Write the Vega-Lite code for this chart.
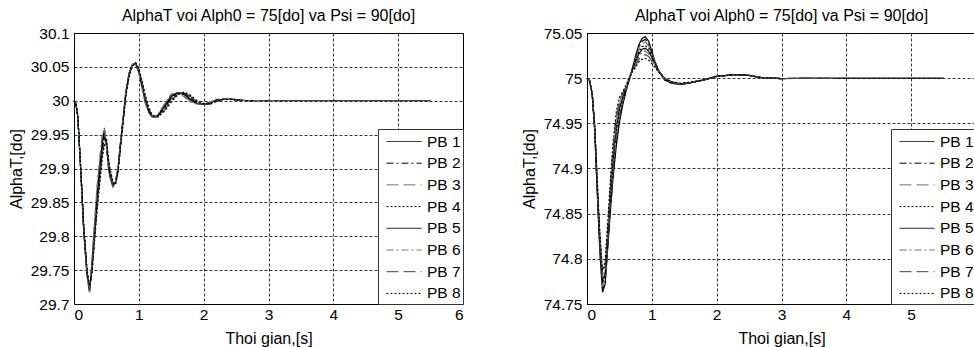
{
"$schema": "https://vega.github.io/schema/vega-lite/v6.json",
"padding": {"left": 7, "top": 7, "right": 0, "bottom": 0},
"background": "white",
"config": {
  "font": "Liberation Sans",
  "view": {"stroke": "black", "strokeWidth": 1},
  "axis": {"domain": false, "ticks": false, "grid": true, "gridColor": "black", "gridDash": [3, 2], "gridOpacity": 1, "gridWidth": 0.8, "labelFont": "Liberation Sans", "labelFontSize": 15.5, "labelColor": "black", "titleFont": "Liberation Sans", "titleFontSize": 16, "titleFontWeight": "normal", "titleColor": "black"},
  "axisX": {"labelPadding": 3.5, "titlePadding": 7},
  "axisY": {"labelPadding": 5, "titlePadding": 6},
  "title": {"font": "Liberation Sans", "fontSize": 16, "fontWeight": "normal", "color": "black", "offset": 2},
  "legend": {"orient": "bottom-right", "offset": 0, "title": null, "symbolType": "M-1.75,0H1.75", "symbolSize": 400, "symbolOffset": 13.5, "symbolStrokeWidth": 1, "labelFont": "Liberation Sans", "labelFontSize": 15.5, "labelColor": "black", "strokeColor": "#333333", "fillColor": "white", "padding": 2, "rowPadding": 2.7, "labelOffset": 12.5, "cornerRadius": 0}
},
"datasets": {
  "L": [
    {"t":0,"PB 1":30,"PB 2":30,"PB 3":30,"PB 4":30,"PB 5":30,"PB 6":30,"PB 7":30,"PB 8":30},
    {"t":0.03,"PB 1":29.996,"PB 2":29.996,"PB 3":29.996,"PB 4":29.996,"PB 5":29.996,"PB 6":29.996,"PB 7":29.996,"PB 8":29.996},
    {"t":0.06,"PB 1":29.975,"PB 2":29.975,"PB 3":29.975,"PB 4":29.975,"PB 5":29.975,"PB 6":29.975,"PB 7":29.975,"PB 8":29.975},
    {"t":0.1,"PB 1":29.905,"PB 2":29.906,"PB 3":29.904,"PB 4":29.907,"PB 5":29.905,"PB 6":29.903,"PB 7":29.906,"PB 8":29.908},
    {"t":0.15,"PB 1":29.81,"PB 2":29.812,"PB 3":29.808,"PB 4":29.814,"PB 5":29.81,"PB 6":29.806,"PB 7":29.812,"PB 8":29.815},
    {"t":0.2,"PB 1":29.745,"PB 2":29.748,"PB 3":29.742,"PB 4":29.75,"PB 5":29.745,"PB 6":29.74,"PB 7":29.748,"PB 8":29.752},
    {"t":0.24,"PB 1":29.719,"PB 2":29.722,"PB 3":29.717,"PB 4":29.724,"PB 5":29.72,"PB 6":29.716,"PB 7":29.722,"PB 8":29.726},
    {"t":0.28,"PB 1":29.76,"PB 2":29.755,"PB 3":29.765,"PB 4":29.752,"PB 5":29.758,"PB 6":29.768,"PB 7":29.75,"PB 8":29.748},
    {"t":0.32,"PB 1":29.815,"PB 2":29.808,"PB 3":29.822,"PB 4":29.802,"PB 5":29.812,"PB 6":29.826,"PB 7":29.8,"PB 8":29.796},
    {"t":0.36,"PB 1":29.865,"PB 2":29.858,"PB 3":29.874,"PB 4":29.85,"PB 5":29.862,"PB 6":29.878,"PB 7":29.846,"PB 8":29.842},
    {"t":0.4,"PB 1":29.905,"PB 2":29.898,"PB 3":29.915,"PB 4":29.89,"PB 5":29.902,"PB 6":29.918,"PB 7":29.886,"PB 8":29.88},
    {"t":0.44,"PB 1":29.942,"PB 2":29.935,"PB 3":29.95,"PB 4":29.928,"PB 5":29.94,"PB 6":29.952,"PB 7":29.924,"PB 8":29.918},
    {"t":0.47,"PB 1":29.957,"PB 2":29.95,"PB 3":29.96,"PB 4":29.945,"PB 5":29.953,"PB 6":29.958,"PB 7":29.94,"PB 8":29.935},
    {"t":0.5,"PB 1":29.935,"PB 2":29.937,"PB 3":29.932,"PB 4":29.94,"PB 5":29.936,"PB 6":29.93,"PB 7":29.942,"PB 8":29.944},
    {"t":0.54,"PB 1":29.895,"PB 2":29.899,"PB 3":29.892,"PB 4":29.903,"PB 5":29.897,"PB 6":29.89,"PB 7":29.905,"PB 8":29.908},
    {"t":0.6,"PB 1":29.874,"PB 2":29.875,"PB 3":29.873,"PB 4":29.877,"PB 5":29.874,"PB 6":29.872,"PB 7":29.878,"PB 8":29.88},
    {"t":0.64,"PB 1":29.88,"PB 2":29.879,"PB 3":29.881,"PB 4":29.878,"PB 5":29.88,"PB 6":29.882,"PB 7":29.877,"PB 8":29.876},
    {"t":0.68,"PB 1":29.9,"PB 2":29.898,"PB 3":29.902,"PB 4":29.896,"PB 5":29.9,"PB 6":29.903,"PB 7":29.895,"PB 8":29.894},
    {"t":0.72,"PB 1":29.94,"PB 2":29.938,"PB 3":29.942,"PB 4":29.936,"PB 5":29.94,"PB 6":29.943,"PB 7":29.935,"PB 8":29.934},
    {"t":0.76,"PB 1":29.975,"PB 2":29.974,"PB 3":29.977,"PB 4":29.972,"PB 5":29.975,"PB 6":29.978,"PB 7":29.971,"PB 8":29.97},
    {"t":0.8,"PB 1":30.012,"PB 2":30.011,"PB 3":30.013,"PB 4":30.01,"PB 5":30.012,"PB 6":30.014,"PB 7":30.009,"PB 8":30.008},
    {"t":0.85,"PB 1":30.04,"PB 2":30.039,"PB 3":30.041,"PB 4":30.038,"PB 5":30.04,"PB 6":30.041,"PB 7":30.037,"PB 8":30.036},
    {"t":0.9,"PB 1":30.053,"PB 2":30.053,"PB 3":30.053,"PB 4":30.052,"PB 5":30.053,"PB 6":30.054,"PB 7":30.052,"PB 8":30.051},
    {"t":0.95,"PB 1":30.055,"PB 2":30.055,"PB 3":30.054,"PB 4":30.056,"PB 5":30.055,"PB 6":30.054,"PB 7":30.056,"PB 8":30.056},
    {"t":1.0,"PB 1":30.043,"PB 2":30.045,"PB 3":30.041,"PB 4":30.046,"PB 5":30.043,"PB 6":30.04,"PB 7":30.046,"PB 8":30.048},
    {"t":1.05,"PB 1":30.022,"PB 2":30.025,"PB 3":30.019,"PB 4":30.027,"PB 5":30.022,"PB 6":30.018,"PB 7":30.027,"PB 8":30.03},
    {"t":1.1,"PB 1":30.0,"PB 2":30.003,"PB 3":29.997,"PB 4":30.005,"PB 5":30.0,"PB 6":29.996,"PB 7":30.005,"PB 8":30.008},
    {"t":1.15,"PB 1":29.985,"PB 2":29.987,"PB 3":29.983,"PB 4":29.989,"PB 5":29.985,"PB 6":29.982,"PB 7":29.989,"PB 8":29.991},
    {"t":1.2,"PB 1":29.977,"PB 2":29.978,"PB 3":29.976,"PB 4":29.979,"PB 5":29.977,"PB 6":29.976,"PB 7":29.979,"PB 8":29.98},
    {"t":1.25,"PB 1":29.976,"PB 2":29.976,"PB 3":29.976,"PB 4":29.976,"PB 5":29.976,"PB 6":29.976,"PB 7":29.976,"PB 8":29.977},
    {"t":1.3,"PB 1":29.979,"PB 2":29.978,"PB 3":29.98,"PB 4":29.977,"PB 5":29.979,"PB 6":29.981,"PB 7":29.977,"PB 8":29.976},
    {"t":1.4,"PB 1":29.993,"PB 2":29.99,"PB 3":29.995,"PB 4":29.988,"PB 5":29.992,"PB 6":29.996,"PB 7":29.987,"PB 8":29.985},
    {"t":1.5,"PB 1":30.007,"PB 2":30.004,"PB 3":30.009,"PB 4":30.002,"PB 5":30.006,"PB 6":30.01,"PB 7":30.0,"PB 8":29.998},
    {"t":1.6,"PB 1":30.012,"PB 2":30.011,"PB 3":30.012,"PB 4":30.01,"PB 5":30.012,"PB 6":30.012,"PB 7":30.01,"PB 8":30.009},
    {"t":1.7,"PB 1":30.009,"PB 2":30.011,"PB 3":30.007,"PB 4":30.012,"PB 5":30.01,"PB 6":30.006,"PB 7":30.012,"PB 8":30.013},
    {"t":1.8,"PB 1":30.001,"PB 2":30.004,"PB 3":29.999,"PB 4":30.006,"PB 5":30.002,"PB 6":29.998,"PB 7":30.006,"PB 8":30.008},
    {"t":1.9,"PB 1":29.996,"PB 2":29.997,"PB 3":29.995,"PB 4":29.998,"PB 5":29.996,"PB 6":29.995,"PB 7":29.998,"PB 8":30.0},
    {"t":2.0,"PB 1":29.995,"PB 2":29.995,"PB 3":29.995,"PB 4":29.995,"PB 5":29.995,"PB 6":29.995,"PB 7":29.995,"PB 8":29.996},
    {"t":2.1,"PB 1":29.997,"PB 2":29.996,"PB 3":29.998,"PB 4":29.996,"PB 5":29.997,"PB 6":29.998,"PB 7":29.995,"PB 8":29.995},
    {"t":2.2,"PB 1":30.001,"PB 2":30.0,"PB 3":30.002,"PB 4":30.0,"PB 5":30.001,"PB 6":30.002,"PB 7":29.999,"PB 8":29.999},
    {"t":2.3,"PB 1":30.002,"PB 2":30.002,"PB 3":30.002,"PB 4":30.002,"PB 5":30.002,"PB 6":30.002,"PB 7":30.002,"PB 8":30.002},
    {"t":2.45,"PB 1":30.002,"PB 2":30.002,"PB 3":30.002,"PB 4":30.002,"PB 5":30.002,"PB 6":30.002,"PB 7":30.002,"PB 8":30.002},
    {"t":2.6,"PB 1":30.0005,"PB 2":30.0005,"PB 3":30.0005,"PB 4":30.0005,"PB 5":30.0005,"PB 6":30.0005,"PB 7":30.0005,"PB 8":30.0005},
    {"t":2.8,"PB 1":30.0,"PB 2":30.0,"PB 6":30.0},
    {"t":3.2,"PB 1":30.0,"PB 2":30.0,"PB 6":30.0},
    {"t":5.5,"PB 1":30.0}
  ],
  "R": [
    {"t":0,"PB 1":75,"PB 2":75,"PB 3":75,"PB 4":75,"PB 5":75,"PB 6":75,"PB 7":75,"PB 8":75},
    {"t":0.04,"PB 1":74.997,"PB 2":74.997,"PB 3":74.997,"PB 4":74.997,"PB 5":74.997,"PB 6":74.997,"PB 7":74.997,"PB 8":74.997},
    {"t":0.08,"PB 1":74.983,"PB 2":74.983,"PB 3":74.983,"PB 4":74.983,"PB 5":74.983,"PB 6":74.983,"PB 7":74.983,"PB 8":74.983},
    {"t":0.12,"PB 1":74.94,"PB 2":74.941,"PB 3":74.942,"PB 4":74.943,"PB 5":74.944,"PB 6":74.945,"PB 7":74.946,"PB 8":74.947},
    {"t":0.16,"PB 1":74.87,"PB 2":74.872,"PB 3":74.874,"PB 4":74.876,"PB 5":74.878,"PB 6":74.88,"PB 7":74.882,"PB 8":74.884},
    {"t":0.2,"PB 1":74.805,"PB 2":74.808,"PB 3":74.811,"PB 4":74.814,"PB 5":74.817,"PB 6":74.82,"PB 7":74.823,"PB 8":74.826},
    {"t":0.24,"PB 1":74.763,"PB 2":74.766,"PB 3":74.769,"PB 4":74.773,"PB 5":74.776,"PB 6":74.779,"PB 7":74.783,"PB 8":74.787},
    {"t":0.28,"PB 1":74.772,"PB 2":74.774,"PB 3":74.777,"PB 4":74.781,"PB 5":74.784,"PB 6":74.788,"PB 7":74.792,"PB 8":74.796},
    {"t":0.32,"PB 1":74.812,"PB 2":74.815,"PB 3":74.819,"PB 4":74.823,"PB 5":74.827,"PB 6":74.831,"PB 7":74.835,"PB 8":74.84},
    {"t":0.36,"PB 1":74.852,"PB 2":74.856,"PB 3":74.861,"PB 4":74.866,"PB 5":74.871,"PB 6":74.876,"PB 7":74.881,"PB 8":74.887},
    {"t":0.4,"PB 1":74.888,"PB 2":74.893,"PB 3":74.898,"PB 4":74.904,"PB 5":74.909,"PB 6":74.915,"PB 7":74.921,"PB 8":74.927},
    {"t":0.45,"PB 1":74.924,"PB 2":74.929,"PB 3":74.934,"PB 4":74.94,"PB 5":74.945,"PB 6":74.951,"PB 7":74.956,"PB 8":74.962},
    {"t":0.5,"PB 1":74.951,"PB 2":74.955,"PB 3":74.959,"PB 4":74.963,"PB 5":74.967,"PB 6":74.971,"PB 7":74.975,"PB 8":74.979},
    {"t":0.55,"PB 1":74.97,"PB 2":74.973,"PB 3":74.975,"PB 4":74.977,"PB 5":74.979,"PB 6":74.981,"PB 7":74.983,"PB 8":74.985},
    {"t":0.6,"PB 1":74.985,"PB 2":74.986,"PB 3":74.987,"PB 4":74.988,"PB 5":74.989,"PB 6":74.99,"PB 7":74.991,"PB 8":74.992},
    {"t":0.65,"PB 1":74.998,"PB 2":74.998,"PB 3":74.998,"PB 4":74.998,"PB 5":74.999,"PB 6":74.999,"PB 7":75.0,"PB 8":75.0},
    {"t":0.7,"PB 1":75.011,"PB 2":75.01,"PB 3":75.01,"PB 4":75.009,"PB 5":75.009,"PB 6":75.008,"PB 7":75.008,"PB 8":75.007},
    {"t":0.75,"PB 1":75.025,"PB 2":75.023,"PB 3":75.021,"PB 4":75.019,"PB 5":75.018,"PB 6":75.016,"PB 7":75.014,"PB 8":75.012},
    {"t":0.8,"PB 1":75.037,"PB 2":75.034,"PB 3":75.032,"PB 4":75.029,"PB 5":75.027,"PB 6":75.024,"PB 7":75.021,"PB 8":75.018},
    {"t":0.85,"PB 1":75.044,"PB 2":75.041,"PB 3":75.038,"PB 4":75.035,"PB 5":75.032,"PB 6":75.029,"PB 7":75.025,"PB 8":75.021},
    {"t":0.9,"PB 1":75.046,"PB 2":75.043,"PB 3":75.04,"PB 4":75.036,"PB 5":75.033,"PB 6":75.03,"PB 7":75.026,"PB 8":75.022},
    {"t":0.95,"PB 1":75.041,"PB 2":75.038,"PB 3":75.036,"PB 4":75.033,"PB 5":75.03,"PB 6":75.027,"PB 7":75.024,"PB 8":75.02},
    {"t":1.0,"PB 1":75.03,"PB 2":75.028,"PB 3":75.027,"PB 4":75.025,"PB 5":75.023,"PB 6":75.021,"PB 7":75.019,"PB 8":75.016},
    {"t":1.05,"PB 1":75.018,"PB 2":75.018,"PB 3":75.017,"PB 4":75.016,"PB 5":75.015,"PB 6":75.014,"PB 7":75.013,"PB 8":75.012},
    {"t":1.1,"PB 1":75.009,"PB 2":75.009,"PB 3":75.009,"PB 4":75.009,"PB 5":75.008,"PB 6":75.008,"PB 7":75.008,"PB 8":75.007},
    {"t":1.2,"PB 1":74.998,"PB 2":74.998,"PB 3":74.999,"PB 4":74.999,"PB 5":74.999,"PB 6":74.999,"PB 7":75.0,"PB 8":75.0},
    {"t":1.3,"PB 1":74.9945,"PB 2":74.9945,"PB 3":74.995,"PB 4":74.995,"PB 5":74.9955,"PB 6":74.9955,"PB 7":74.996,"PB 8":74.996},
    {"t":1.45,"PB 1":74.993,"PB 2":74.993,"PB 3":74.9932,"PB 4":74.9935,"PB 5":74.9935,"PB 6":74.994,"PB 7":74.994,"PB 8":74.9945},
    {"t":1.6,"PB 1":74.995,"PB 2":74.995,"PB 3":74.995,"PB 4":74.995,"PB 5":74.995,"PB 6":74.9955,"PB 7":74.9955,"PB 8":74.996},
    {"t":1.8,"PB 1":74.998,"PB 2":74.998,"PB 3":74.998,"PB 4":74.998,"PB 5":74.998,"PB 6":74.998,"PB 7":74.998,"PB 8":74.998},
    {"t":2.0,"PB 1":75.002,"PB 2":75.002,"PB 3":75.002,"PB 4":75.002,"PB 5":75.002,"PB 6":75.002,"PB 7":75.002,"PB 8":75.002},
    {"t":2.3,"PB 1":75.004,"PB 2":75.004,"PB 3":75.004,"PB 4":75.004,"PB 5":75.004,"PB 6":75.004,"PB 7":75.004,"PB 8":75.004},
    {"t":2.5,"PB 1":75.003,"PB 2":75.003,"PB 3":75.003,"PB 4":75.003,"PB 5":75.003,"PB 6":75.003,"PB 7":75.003,"PB 8":75.003},
    {"t":2.7,"PB 1":75.0005,"PB 2":75.0005,"PB 3":75.0005,"PB 4":75.0005,"PB 5":75.0005,"PB 6":75.0005,"PB 7":75.0005,"PB 8":75.0005},
    {"t":3.0,"PB 1":74.9995,"PB 2":74.9995,"PB 3":74.9995,"PB 4":74.9995,"PB 5":74.9995,"PB 6":74.9995,"PB 7":74.9995,"PB 8":74.9995},
    {"t":3.3,"PB 1":75.0,"PB 3":75.0,"PB 7":75.0},
    {"t":3.8,"PB 1":75.0,"PB 3":75.0,"PB 7":75.0},
    {"t":5.5,"PB 1":75.0}
  ]
},
"spacing": 56,
"resolve": {"scale": {"color": "independent", "strokeDash": "independent"}},
"hconcat": [
  {
    "width": 389, "height": 271,
    "title": "AlphaT voi Alph0 = 75[do] va Psi = 90[do]",
    "data": {"name": "L"},
    "transform": [{"fold": ["PB 1","PB 2","PB 3","PB 4","PB 5","PB 6","PB 7","PB 8"], "as": ["series","value"]}],
    "mark": {"type": "line", "strokeWidth": 1.2},
    "encoding": {
      "x": {"field": "t", "type": "quantitative", "scale": {"domain": [0, 6], "nice": false}, "axis": {"values": [0,1,2,3,4,5,6], "format": "d", "title": "Thoi gian,[s]"}},
      "y": {"field": "value", "type": "quantitative", "scale": {"domain": [29.7, 30.1], "nice": false, "zero": false}, "axis": {"values": [29.7,29.75,29.8,29.85,29.9,29.95,30,30.05,30.1], "format": "~g", "title": "AlphaT,[do]"}},
      "color": {"field": "series", "type": "nominal", "scale": {"domain": ["PB 1","PB 2","PB 3","PB 4","PB 5","PB 6","PB 7","PB 8"], "range": ["#000000","#000000","#707070","#000000","#000000","#707070","#444444","#000000"]}},
      "strokeDash": {"field": "series", "type": "nominal", "scale": {"domain": ["PB 1","PB 2","PB 3","PB 4","PB 5","PB 6","PB 7","PB 8"], "range": [[1,0],[7,3,2,3],[12,5],[2,2],[1,0],[7,3,2,3],[12,5],[2,2]]}}
    }
  },
  {
    "width": 389, "height": 271,
    "title": "AlphaT voi Alph0 = 75[do] va Psi = 90[do]",
    "data": {"name": "R"},
    "transform": [{"fold": ["PB 1","PB 2","PB 3","PB 4","PB 5","PB 6","PB 7","PB 8"], "as": ["series","value"]}],
    "mark": {"type": "line", "strokeWidth": 1.2},
    "encoding": {
      "x": {"field": "t", "type": "quantitative", "scale": {"domain": [0, 6], "nice": false}, "axis": {"values": [0,1,2,3,4,5,6], "format": "d", "labelExpr": "datum.value == 6 ? '' : datum.label", "title": "Thoi gian,[s]"}},
      "y": {"field": "value", "type": "quantitative", "scale": {"domain": [74.75, 75.05], "nice": false, "zero": false}, "axis": {"values": [74.75,74.8,74.85,74.9,74.95,75,75.05], "format": "~g", "title": "AlphaT,[do]"}},
      "color": {"field": "series", "type": "nominal", "scale": {"domain": ["PB 1","PB 2","PB 3","PB 4","PB 5","PB 6","PB 7","PB 8"], "range": ["#000000","#000000","#707070","#000000","#000000","#707070","#444444","#000000"]}},
      "strokeDash": {"field": "series", "type": "nominal", "scale": {"domain": ["PB 1","PB 2","PB 3","PB 4","PB 5","PB 6","PB 7","PB 8"], "range": [[1,0],[7,3,2,3],[12,5],[2,2],[1,0],[7,3,2,3],[12,5],[2,2]]}}
    }
  }
]
}
